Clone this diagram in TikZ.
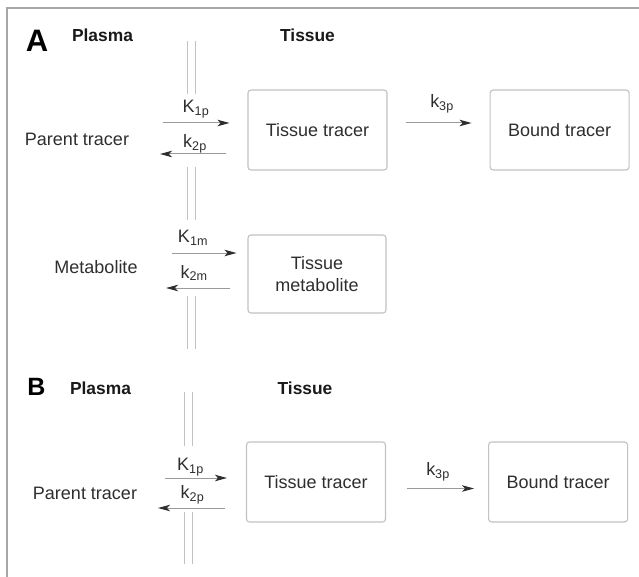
\documentclass[tikz,border=0pt]{standalone}
\usepackage{fontspec}
\setmainfont{Liberation Sans}
\usetikzlibrary{arrows.meta,positioning}
\definecolor{txtgray}{HTML}{2E2E2E}
\definecolor{linegray}{HTML}{C2C2C2}
\definecolor{shaftgray}{HTML}{9A9A9A}
\definecolor{framegray}{HTML}{A6A6A6}

\begin{document}
\begin{tikzpicture}[
        x=1pt, y=-1pt,
        node distance=102pt,
        box/.style={draw=linegray, line width=1.1pt, rounded corners=3pt, minimum width=139pt, minimum height=80pt, align=center, text=txtgray, font=\fontsize{18}{22}\selectfont},
        lbl/.style={text=txtgray, inner sep=0pt, font=\fontsize{18}{22}\selectfont},
        head/.style={text=black!90, inner sep=0pt, font=\fontsize{17.4}{20}\selectfont\bfseries},
        panel/.style={text=black, inner sep=0pt, font=\fontsize{31}{31}\selectfont\bfseries},
        flow/.style={draw=shaftgray, line width=1pt, -{Stealth[length=12pt,width=6.5pt,inset=3pt,color=txtgray]}},
        membrane/.style={draw=linegray, line width=1pt, double=white, double distance=7pt},
        frame/.style={draw=framegray, line width=2pt}
      ]
        \useasboundingbox (0,0) rectangle (639,577);
        \draw[frame] (7,577) -- (7,8) -- (639,8);

        \node[panel] (labA) at (37,40.5) {A};
        \node[head] (plasmaA) at (102.5,35.5) {Plasma};
        \node[head] (tissueA) at (307.5,35.5) {Tissue};
        \node[box] (tisA) at (317.5,130) {Tissue tracer};
        \node[box, right=of tisA] (bndA) {Bound tracer};
        \node[box, minimum width=138pt, minimum height=78pt] (metA) at (317,274) {Tissue\\metabolite};
        \node[lbl] (parA) at (77,139.5) {Parent tracer};
        \node[lbl] (metabA) at (96,267.5) {Metabolite};
        \node[lbl] (k1pA) at (196,109) {K\textsubscript{1p}};
        \node[lbl] (k2pA) at (195,143.5) {k\textsubscript{2p}};
        \node[lbl] (k3pA) at (442,104) {k\textsubscript{3p}};
        \node[lbl] (k1mA) at (193,238) {K\textsubscript{1m}};
        \node[lbl] (k2mA) at (194,273) {k\textsubscript{2m}};

        \foreach \a/\b in {41/94,167/220,296/349}
          \draw[membrane] (191,\a) -- (191,\b);

        \coordinate (inpA) at (163,123);
        \coordinate (outpA) at (160,154);
        \coordinate (inmA) at (172,253);
        \coordinate (outmA) at (166,288);
        \draw[flow, shorten >=18pt] (inpA) -- (inpA -| tisA.west);
        \draw[flow, shorten <=21pt] (outpA -| tisA.west) -- (outpA);
        \draw[flow, shorten >=11pt] (inmA) -- (inmA -| metA.west);
        \draw[flow, shorten <=17pt] (outmA -| metA.west) -- (outmA);
        \draw[flow, shorten <=18pt, shorten >=18pt] ([yshift=7pt]tisA.east) -- ([yshift=7pt]bndA.west);

        \node[panel, font=\fontsize{25}{25}\selectfont\bfseries] (labB) at (36.5,387) {B};
        \node[head] (plasmaB) at (100.5,388) {Plasma};
        \node[head] (tissueB) at (305,388) {Tissue};
        \node[box] (tisB) at (316,482) {Tissue tracer};
        \node[box, right=of tisB] (bndB) {Bound tracer};
        \node[lbl] (parB) at (85,493) {Parent tracer};
        \node[lbl] (k1pB) at (190.5,467) {K\textsubscript{1p}};
        \node[lbl] (k2pB) at (192.5,495) {k\textsubscript{2p}};
        \node[lbl] (k3pB) at (438,472) {k\textsubscript{3p}};

        \foreach \a/\b in {392/446,512/564}
          \draw[membrane] (188,\a) -- (188,\b);

        \coordinate (inpB) at (165,478);
        \coordinate (outpB) at (158,508);
        \draw[flow, shorten >=19pt] (inpB) -- (inpB -| tisB.west);
        \draw[flow, shorten <=21pt] (outpB -| tisB.west) -- (outpB);
        \draw[flow, shorten <=21pt, shorten >=14pt] ([yshift=-6.5pt]tisB.east) -- ([yshift=-6.5pt]bndB.west);
      \end{tikzpicture}
\end{document}
